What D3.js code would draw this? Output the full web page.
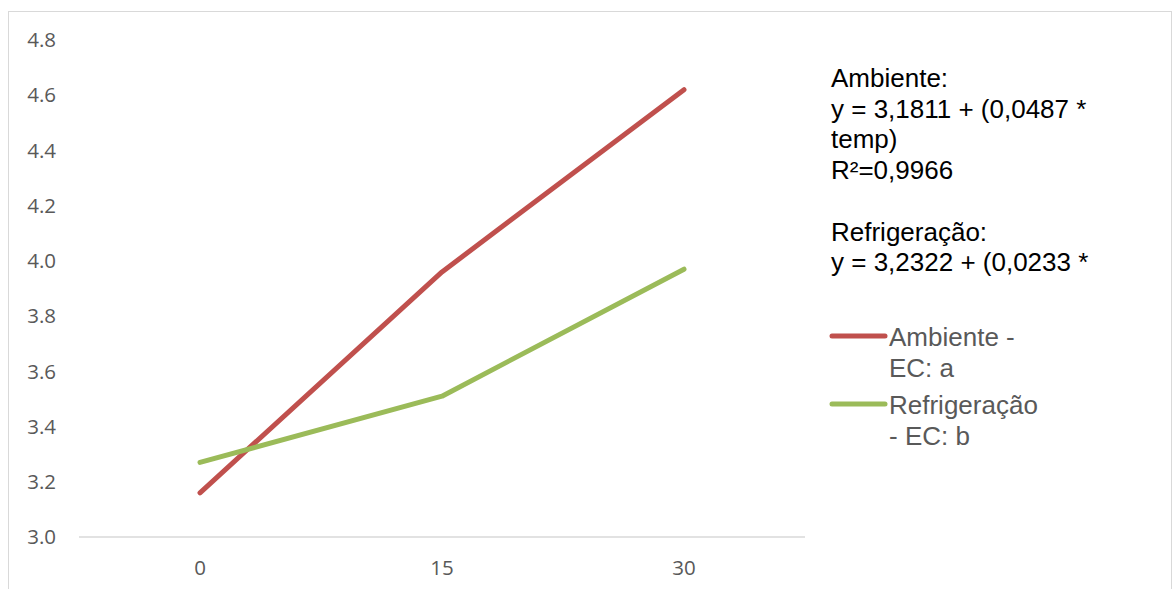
<!DOCTYPE html>
<html><head><meta charset="utf-8">
<script src="https://cdn.jsdelivr.net/npm/d3@7"></script>
<style>body{margin:0;background:#fff}</style>
</head><body>
<svg id="c" width="1173" height="589"></svg>
<script>
const categories = ["0", "15", "30"];
const ambiente = [3.16, 3.96, 4.62];
const refrigeracao = [3.27, 3.51, 3.97];
const yTicks = [3.0, 3.2, 3.4, 3.6, 3.8, 4.0, 4.2, 4.4, 4.6, 4.8];
const seriesNames = ["Ambiente - EC: a", "Refrigeração - EC: b"];
const annotationLines = ["Ambiente:", "y = 3,1811 + (0,0487 *", "temp)", "R²=0,9966", "", "Refrigeração:", "y = 3,2322 + (0,0233 *"];
const colors = ["#c0504d", "#9bbb59"];

const svg = d3.select("#c");
svg.append("rect").attr("x", 8.5).attr("y", 11.5).attr("width", 1163).attr("height", 600)
  .attr("fill", "#fff").attr("stroke", "#d9d9d9").attr("stroke-width", 1);

const x = d3.scaleBand().domain(categories).range([79, 805]);
const y = d3.scaleLinear().domain([3.0, 4.8]).range([537, 40]);

// y tick labels
svg.append("g").selectAll("text").data(yTicks).join("text")
  .attr("x", 56).attr("y", d => y(d)).attr("dy", "0.35em")
  .attr("text-anchor", "end").attr("font-family", "Open Sans").attr("font-size", 20.5)
  .attr("fill", "#595959").text(d => d.toFixed(1));

// baseline
svg.append("line").attr("x1", x.range()[0]).attr("x2", x.range()[1])
  .attr("y1", y(3.0)).attr("y2", y(3.0)).attr("stroke", "#d9d9d9").attr("stroke-width", 1.5);

// x labels
svg.append("g").selectAll("text").data(categories).join("text")
  .attr("x", d => x(d) + x.bandwidth() / 2).attr("y", 568).attr("dy", "0.35em")
  .attr("text-anchor", "middle").attr("font-family", "Open Sans").attr("font-size", 20.5)
  .attr("fill", "#595959").text(d => d);

const line = d3.line().x((d, i) => x(categories[i]) + x.bandwidth() / 2).y(d => y(d));
[ambiente, refrigeracao].forEach((s, k) => {
  svg.append("path").datum(s).attr("d", line).attr("fill", "none")
    .attr("stroke", colors[k]).attr("stroke-width", 5)
    .attr("stroke-linecap", "round").attr("stroke-linejoin", "round");
});

// annotation
const ann = svg.append("text").attr("font-family", "Liberation Sans, Arial").attr("font-size", 26).attr("fill", "#000");
annotationLines.forEach((t, i) => {
  ann.append("tspan").attr("x", 831).attr("y", 87 + i * 30.7).text(t);
});

// legend
const legendLines = [["Ambiente -", "EC: a"], ["Refrigeração", "- EC: b"]];
const legY = [336, 404];
legendLines.forEach((ls, k) => {
  svg.append("line").attr("x1", 832).attr("x2", 885).attr("y1", legY[k]).attr("y2", legY[k])
    .attr("stroke", colors[k]).attr("stroke-width", 5).attr("stroke-linecap", "round");
  const t = svg.append("text").attr("font-family", "Liberation Sans, Arial").attr("font-size", 26).attr("fill", "#595959");
  ls.forEach((s, j) => t.append("tspan").attr("x", 889).attr("y", legY[k] + 10 + j * 31).text(s));
});
</script>
</body></html>
